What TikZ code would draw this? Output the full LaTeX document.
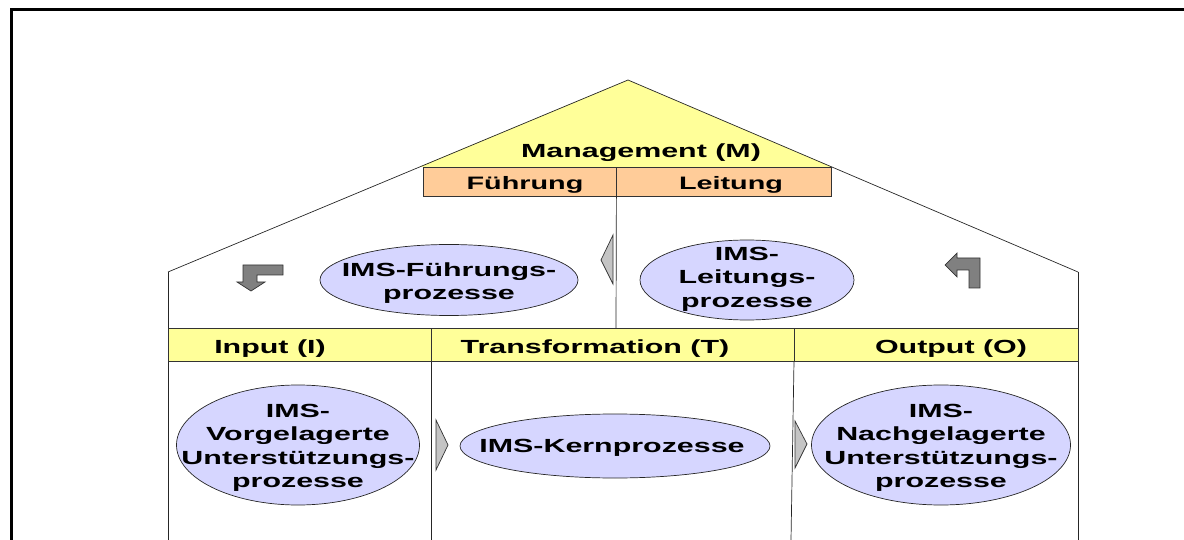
\documentclass[tikz,border=0pt]{standalone}
\usepackage{fontspec}
\setmainfont{Liberation Sans}[FakeStretch=1.6]
\usepackage{xcolor}
\usetikzlibrary{positioning,shapes.geometric}

\definecolor{roofyellow}{RGB}{255,255,153}
\definecolor{peach}{RGB}{255,204,153}
\definecolor{lavender}{RGB}{214,214,255}
\definecolor{arrowgray}{RGB}{128,128,128}
\definecolor{tipgray}{RGB}{196,196,196}

\begin{document}
\begin{tikzpicture}[x=1pt,y=-1pt,
    lbl/.style={font=\fontsize{19}{23.5}\selectfont\bfseries, align=center, inner sep=0pt, yshift=-3pt},
    proc/.style={ellipse, draw=black!85, fill=lavender, inner sep=0pt, line width=0.7pt},
    cell/.style={rectangle, draw=black!80, inner sep=0pt, line width=0.8pt},
    wall/.style={black!85, line width=0.7pt},
    tip/.style={draw=black!80, fill=tipgray, line width=0.7pt},
    bent/.style={draw=black!80, fill=arrowgray, line width=0.7pt}]
    \useasboundingbox (0,0) rectangle (1184,540);

    % Frame
    \draw[line width=3pt] (11,560) -- (11,10) -- (1200,10);

    % Roof
    \fill[roofyellow] (628,80) -- (419,167) -- (832,167) -- cycle;
    \draw[wall] (168,272) -- (628,80) -- (1078,272);
    \node[lbl] (mgmt) at (641,150) {Management (M)};

    % Fuehrung / Leitung
    \node[cell, fill=peach, minimum width=193pt, minimum height=29pt] (fuehr) at (519.5,181.5) {};
    \node[cell, fill=peach, minimum width=215pt, minimum height=29pt] (leit) at (723.5,181.5) {};
    \node[lbl, font=\fontsize{18}{22}\selectfont\bfseries] at (525,182) {Führung};
    \node[lbl, font=\fontsize{18}{22}\selectfont\bfseries] at (731,182) {Leitung};
    \draw[wall] (fuehr.south east) -- (616,328);

    % Walls
    \draw[wall] (168,272) -- (168,540);
    \draw[wall] (1078,272) -- (1078,540);
    \draw[wall] (431,361) -- (431,540);
    \draw[wall] (794,361) -- (791,540);

    % Header row
    \node[cell, fill=roofyellow, minimum width=263pt, minimum height=33pt] (inp) at (299.5,344.5) {};
    \node[cell, fill=roofyellow, minimum width=363pt, minimum height=33pt] (trans) at (612.5,344.5) {};
    \node[cell, fill=roofyellow, minimum width=284pt, minimum height=33pt] (outp) at (936,344.5) {};
    \node[lbl] at (270,346) {Input (I)};
    \node[lbl] at (595,346) {Transformation (T)};
    \node[lbl] at (951,346) {Output (O)};

    % Processes
    \node[proc, minimum width=258pt, minimum height=71pt] (fp) at (449,280) {};
    \node[lbl] at (fp) {IMS-Führungs-\\prozesse};
    \node[proc, minimum width=214pt, minimum height=80pt] (lp) at (747,280) {};
    \node[lbl] at (747,276) {IMS-\\Leitungs-\\prozesse};
    \node[proc, minimum width=243pt, minimum height=120pt] (vp) at (298,445) {};
    \node[lbl] at (vp) {IMS-\\Vorgelagerte\\Unterstützungs-\\prozesse};
    \node[proc, minimum width=310pt, minimum height=64pt] (kp) at (615,446) {};
    \node[lbl] at (612,445) {IMS-Kernprozesse};
    \node[proc, minimum width=259pt, minimum height=120pt] (np) at (941,445) {};
    \node[lbl] at (np) {IMS-\\Nachgelagerte\\Unterstützungs-\\prozesse};

    % Triangles
    \draw[tip] (613,235) -- (613,284) -- (601,260) -- cycle;
    \draw[tip] (436,420) -- (436,470) -- (448,445) -- cycle;
    \draw[tip] (795,421) -- (795,468) -- (807,444) -- cycle;

    % Bent arrows
    \draw[bent] (283,265) -- (243,265) -- (243,282) -- (237,282) -- (251,291)
        -- (265,282) -- (257,282) -- (257,275) -- (283,275) -- cycle;
    \draw[bent] (945,265) -- (957,253) -- (957,258) -- (980,258) -- (980,288)
        -- (969,288) -- (969,270) -- (957,270) -- (957,277) -- cycle;
\end{tikzpicture}
\end{document}
